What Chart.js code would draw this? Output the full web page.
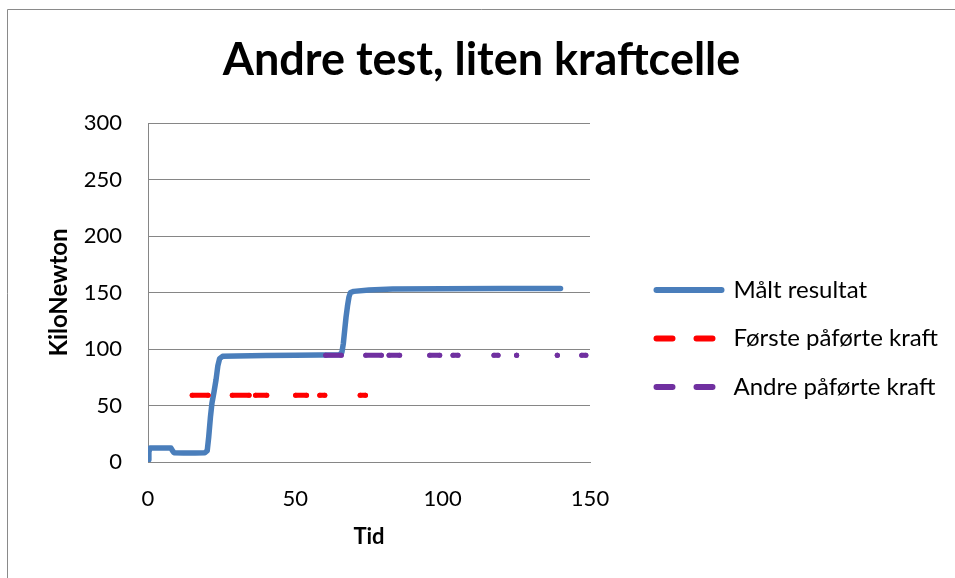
<!DOCTYPE html>
<html>
<head>
<meta charset="utf-8">
<title>Andre test, liten kraftcelle</title>
<script src="https://cdn.jsdelivr.net/npm/chart.js@4.4.1/dist/chart.umd.min.js"></script>
<style>
  html, body { margin: 0; padding: 0; background: #fff; }
  #wrap { width: 955px; height: 578px; }
</style>
</head>
<body>
<div id="wrap"><canvas id="chart" width="955" height="578"></canvas></div>
<script>
// Målt resultat: tid og kraft (kN), lest av figuren
var tid   = [0, 0.3, 0.7, 3, 6, 7.8, 8.3, 8.8, 12, 16, 19.3, 20.1, 20.6, 21.2, 21.7, 22.4, 23.1, 23.7, 24.3, 25.3,
             30, 40, 50, 58, 65, 65.8, 66.3, 66.8, 67.2, 67.7, 68.2, 68.7, 69.8, 75, 83, 100, 120, 140];
var kraft = [2, 9, 12.3, 12.5, 12.3, 12.3, 10, 8.2, 7.9, 7.9, 8.2, 10, 22, 40, 52, 62, 73, 85, 91.5, 93.5,
             93.8, 94.2, 94.5, 94.7, 95, 97, 105, 118, 128, 138, 146, 150, 151, 152.2, 153.2, 153.4, 153.5, 153.6];

// Første påførte kraft: nivå og strekene langs tidsaksen
var forsteNivaa = 59;
var forsteFra = [15.0, 28.6, 36.5, 50.1, 58.3, 72.0];
var forsteTil = [20.4, 34.3, 40.3, 53.8, 60.0, 73.8];

// Andre påførte kraft
var andreNivaa = 94.5;
var andreFra = [60.3, 73.9, 81.8, 95.6, 103.5, 117.4, 125.1, 138.9, 147.2];
var andreTil = [65.6, 79.2, 85.4, 99.0, 105.2, 118.8, 125.1, 138.9, 148.6];

var xTicks = [0, 50, 100, 150];
var yTicks = [0, 50, 100, 150, 200, 250, 300];

var serieNavn = ['Målt resultat', 'Første påførte kraft', 'Andre påførte kraft'];
var legendDash = [[], [16, 24], [16, 24]];

var gridGray = '#868686';
var fontName = 'Lato';

function streker(fra, til, nivaa) {
  var pts = [];
  for (var i = 0; i < fra.length; i++) {
    pts.push({ x: fra[i], y: nivaa }, { x: til[i], y: nivaa }, { x: til[i], y: null });
  }
  return pts;
}

var maalt = tid.map(function (t, i) { return { x: t, y: kraft[i] }; });

// white background and the frame of the chart box
var frame = {
  id: 'frame',
  beforeDraw: function (chart) {
    var c = chart.ctx;
    c.save();
    c.fillStyle = '#fff';
    c.fillRect(0, 0, chart.width, chart.height);
    c.strokeStyle = '#8a8a8a';
    c.lineWidth = 1;
    c.beginPath();
    c.moveTo(7.5, chart.height);
    c.lineTo(7.5, 9.5);
    c.lineTo(chart.width, 9.5);
    c.stroke();
    c.restore();
  }
};

// legend sits at a fixed width on the right, its items a bit in from the plot
var legendPlace = {
  id: 'legendPlace',
  beforeLayout: function (chart) {
    var lg = chart.legend;
    if (lg && !lg._fixed) {
      var fit = lg.fit;
      lg.fit = function () { fit.call(this); this.width = 365; };
      lg._fixed = true;
    }
  },
  afterLayout: function (chart) {
    var lg = chart.legend;
    lg.left += 42;
    lg.right += 42;
    lg.top = 138.5;
    lg.bottom = 538.5;
    lg.height = 400;
  }
};

new Chart(document.getElementById('chart'), {
  type: 'line',
  data: {
    datasets: [
      {
        label: serieNavn[0],
        data: maalt,
        borderColor: '#4a7ebb',
        backgroundColor: '#4a7ebb',
        borderWidth: 5.5,
        borderCapStyle: 'round',
        borderJoinStyle: 'round',
        pointRadius: 0,
        tension: 0,
        order: 3
      },
      {
        label: serieNavn[1],
        data: streker(forsteFra, forsteTil, forsteNivaa),
        borderColor: '#ff0000',
        backgroundColor: '#ff0000',
        borderWidth: 5,
        borderCapStyle: 'round',
        pointRadius: 2.5,
        pointBorderWidth: 0,
        spanGaps: false,
        order: 2
      },
      {
        label: serieNavn[2],
        data: streker(andreFra, andreTil, andreNivaa),
        borderColor: '#7030a0',
        backgroundColor: '#7030a0',
        borderWidth: 5,
        borderCapStyle: 'round',
        pointRadius: 2.5,
        pointBorderWidth: 0,
        spanGaps: false,
        order: 1
      }
    ]
  },
  options: {
    responsive: false,
    animation: false,
    layout: { padding: { left: 8, top: 9, right: 0, bottom: 0 } },
    plugins: {
      title: {
        display: true,
        text: 'Andre test, liten kraftcelle',
        color: '#000',
        font: { family: fontName, size: 45, weight: 'bold' },
        padding: { top: 24.5, bottom: 35.5 }
      },
      legend: {
        position: 'right',
        labels: {
          color: '#000',
          font: { family: fontName, size: 24 },
          usePointStyle: true,
          pointStyle: 'line',
          pointStyleWidth: 65,
          padding: 24.5,
          generateLabels: function (chart) {
            var items = Chart.defaults.plugins.legend.labels.generateLabels(chart);
            items.sort(function (a, b) { return a.datasetIndex - b.datasetIndex; });
            items.forEach(function (it) {
              it.lineDash = legendDash[it.datasetIndex];
              it.lineWidth = 6;
              it.lineCap = 'round';
            });
            return items;
          }
        }
      },
      tooltip: { enabled: false }
    },
    scales: {
      x: {
        type: 'linear',
        min: xTicks[0],
        max: xTicks[xTicks.length - 1],
        afterBuildTicks: function (s) { s.ticks = xTicks.map(function (v) { return { value: v }; }); },
        afterFit: function (s) { s.height = 116; },
        grid: { display: false, drawTicks: false },
        border: { display: true, color: gridGray, width: 1 },
        ticks: { color: '#000', padding: 24, font: { family: fontName, size: 22 } },
        title: {
          display: true,
          text: 'Tid',
          color: '#000',
          font: { family: fontName, size: 22, weight: 'bold' },
          padding: { top: 0, bottom: 28 }
        }
      },
      y: {
        min: yTicks[0],
        max: yTicks[yTicks.length - 1],
        afterBuildTicks: function (s) { s.ticks = yTicks.map(function (v) { return { value: v }; }); },
        afterFit: function (s) { s.width = 140; },
        grid: { color: gridGray, drawTicks: false },
        border: { display: true, color: gridGray, width: 1 },
        ticks: { color: '#000', padding: 26, font: { family: fontName, size: 22 } },
        title: {
          display: true,
          text: 'KiloNewton',
          color: '#000',
          font: { family: fontName, size: 24, weight: 'bold' },
          padding: { top: 37, bottom: 0 }
        }
      }
    }
  },
  plugins: [frame, legendPlace]
});
</script>
</body>
</html>
